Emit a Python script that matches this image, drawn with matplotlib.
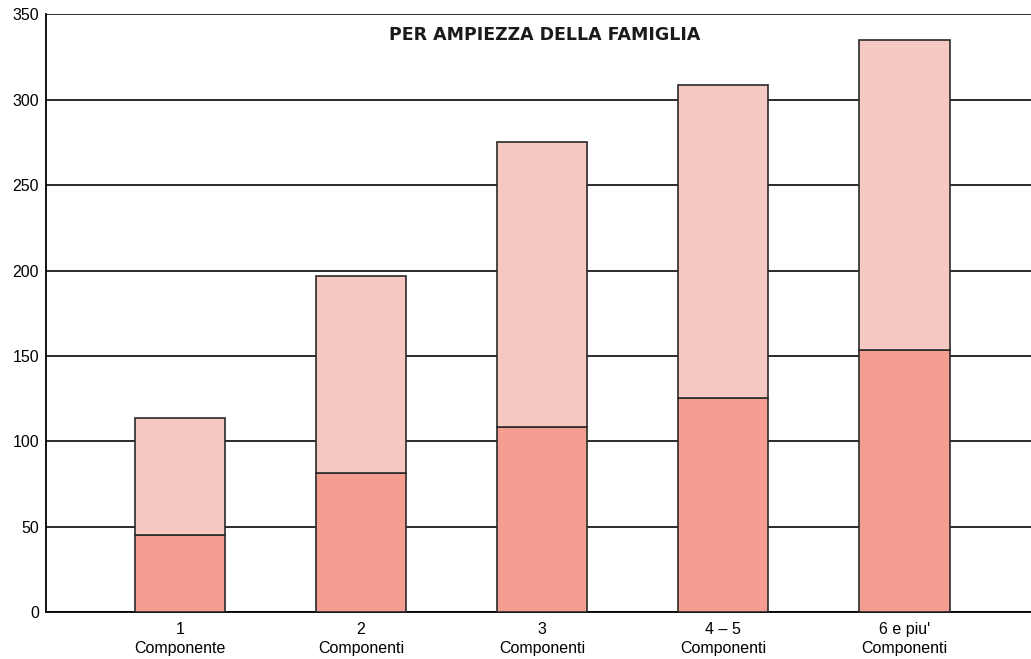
import matplotlib.pyplot as plt
import numpy as np

# spesa per ampiezza della famiglia (due componenti della barra)
categorie = ['1\nComponente', '2\nComponenti', '3\nComponenti',
             '4 \u2013 5\nComponenti', '6 e piu\'\nComponenti']
quota_base = [45, 81.5, 108.5, 125.5, 153.5]
totale = [113.5, 197, 275.5, 308.5, 335]
quota_sup = [t - b for t, b in zip(totale, quota_base)]

plt.rcParams['font.family'] = ['Liberation Sans', 'DejaVu Sans']

fig = plt.figure(figsize=(10.31, 6.59), dpi=100)
ax = fig.add_axes([0.0446, 0.071, 0.9554, 0.907])

x = np.arange(len(categorie))
ax.bar(x, quota_base, width=0.5, color='#f39e90', edgecolor='#2a2a2a',
       linewidth=1.2, zorder=3)
ax.bar(x, quota_sup, width=0.5, bottom=quota_base, color='#f5c8c2',
       edgecolor='#2a2a2a', linewidth=1.2, zorder=3)

ax.set_ylim(0, 350)
ax.set_xlim(-0.74, 4.70)
ax.set_yticks(np.arange(0, 351, 50))
ax.yaxis.grid(True, color='#1a1a1a', linewidth=1.3, zorder=1)
ax.set_axisbelow(True)

for s in ['top', 'right']:
    ax.spines[s].set_visible(False)
ax.spines['left'].set_linewidth(1.3)
ax.spines['bottom'].set_linewidth(1.3)

ax.set_xticks(x)
ax.set_xticklabels(categorie, fontsize=11.5, linespacing=1.3)
ax.tick_params(axis='x', length=0, pad=7)
ax.tick_params(axis='y', length=0, pad=5, labelsize=11.5)

ax.text(0.5066, 0.965, 'PER AMPIEZZA DELLA FAMIGLIA',
        transform=ax.transAxes, ha='center', va='center', fontsize=12.5,
        fontweight='bold', color='#1a1a1a', family='DejaVu Sans')

fig.savefig('out.png', dpi=100)
